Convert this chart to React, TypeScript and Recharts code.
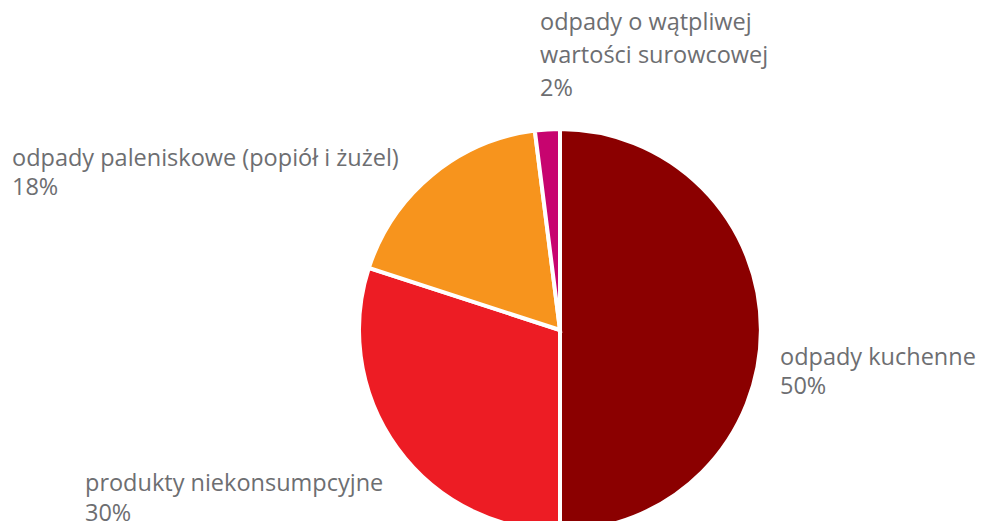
import { PieChart, Pie, Cell } from "recharts";

const categories = [
  "odpady kuchenne",
  "produkty niekonsumpcyjne",
  "odpady paleniskowe (popiół i żużel)",
  "odpady o wątpliwej wartości surowcowej",
];
const values = [50, 30, 18, 2];
const labelLines = [
  ["odpady kuchenne"],
  ["produkty niekonsumpcyjne"],
  ["odpady paleniskowe (popiół i żużel)"],
  ["odpady o wątpliwej", "wartości surowcowej"],
];

const COLORS = ["#8b0000", "#ed1c24", "#f7941d", "#c7046f"];
// label offsets from the pie centre, and line spacing per label
const LABEL_POS = [
  { dx: 220, dy: 35, lh: 29 },
  { dx: -475, dy: 161, lh: 30 },
  { dx: -548, dy: -164, lh: 29 },
  { dx: -20, dy: -300, lh: 33 },
];

const data = categories.map((name, i) => ({ name, value: values[i] }));

const renderLabel = (props: any) => {
  const { cx, cy, index, value } = props;
  const p = LABEL_POS[index];
  const lines = [...labelLines[index], `${value}%`];
  return (
    <text
      x={cx + p.dx}
      y={cy + p.dy}
      fill="#6d6e71"
      fontSize={23.5}
      fontFamily="'Open Sans', sans-serif"
      textAnchor="start"
    >
      {lines.map((l, i) => (
        <tspan key={i} x={cx + p.dx} y={cy + p.dy + i * p.lh}>
          {l}
        </tspan>
      ))}
    </text>
  );
};

export default function App() {
  return (
    <div style={{ position: "absolute", left: 0, top: 0, background: "#fff" }}>
      <PieChart width={981} height={521} margin={{ top: 0, right: 0, bottom: 0, left: 0 }}>
        <Pie
          data={data}
          dataKey="value"
          nameKey="name"
          cx={560}
          cy={330}
          outerRadius={201}
          startAngle={90}
          endAngle={-270}
          stroke="#ffffff"
          strokeWidth={4}
          label={renderLabel}
          labelLine={false}
          isAnimationActive={false}
        >
          {data.map((d, i) => (
            <Cell key={d.name} fill={COLORS[i]} />
          ))}
        </Pie>
      </PieChart>
    </div>
  );
}
